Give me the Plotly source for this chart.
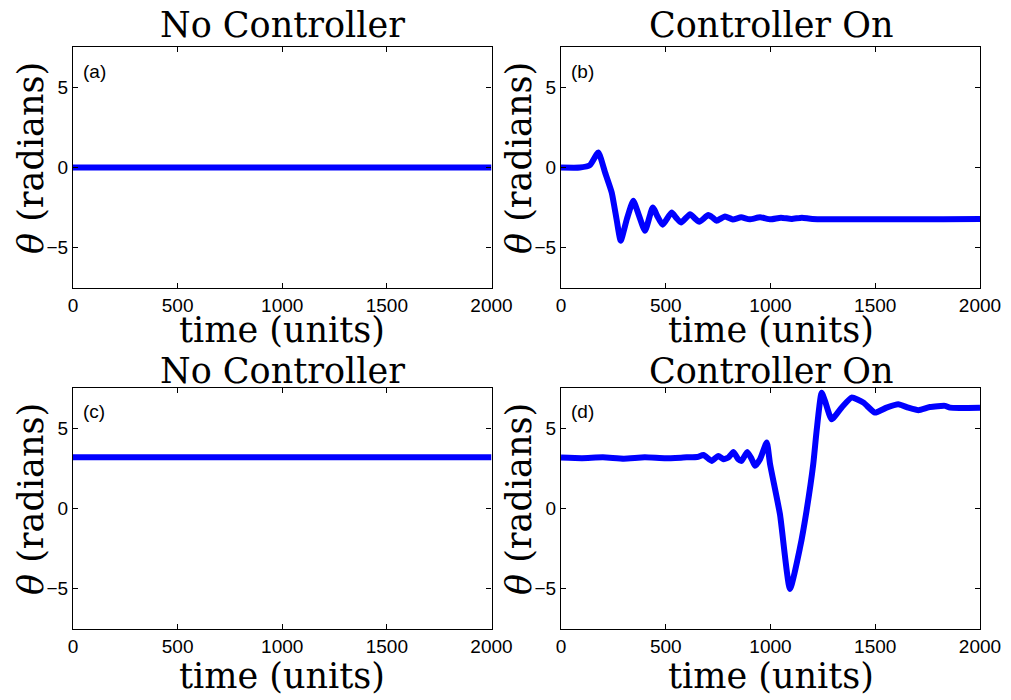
import plotly.graph_objects as go

# ---- data ----
t_a = [0, 2000]
theta_a = [0, 0]

t_b = [0, 90, 138, 178, 210, 242, 266, 285, 315, 345, 372, 401, 438, 462, 485, 528, 550, 573,
       616, 640, 660, 703, 725, 743, 783, 820, 860, 900, 950, 1000, 1050, 1100, 1150, 1200, 2000]
theta_b = [0, 0, 0.15, 0.94, -0.3, -1.56, -3.3, -4.58, -3.2, -2.08, -3.0, -3.96, -2.5, -3.1, -3.58,
           -2.81, -3.15, -3.44, -2.92, -3.2, -3.4, -2.98, -3.15, -3.33, -3.06, -3.25, -3.12, -3.24,
           -3.12, -3.24, -3.14, -3.22, -3.14, -3.22, -3.22]

t_c = [0, 2000]
theta_c = [3.2, 3.2]

t_d = [0, 100, 200, 300, 400, 500, 600, 650, 680, 719, 751, 775, 800, 823, 845, 862, 889, 910,
       926, 950, 982, 998, 1045, 1093, 1141, 1172, 1204, 1220, 1244, 1260, 1292, 1339, 1387, 1443,
       1499, 1554, 1610, 1658, 1706, 1761, 1833, 1857, 2000]
theta_d = [3.19, 3.15, 3.2, 3.12, 3.2, 3.14, 3.2, 3.22, 3.35, 2.98, 3.29, 3.08, 3.2, 3.54, 3.1,
           2.98, 3.54, 3.1, 2.67, 3.08, 4.13, 2.77, -0.35, -5.04, -2.44, -0.15, 2.77, 4.85, 7.25,
           6.73, 5.58, 6.31, 6.94, 6.63, 6.0, 6.31, 6.52, 6.31, 6.15, 6.35, 6.42, 6.31, 6.31]

panel_titles = ["No Controller", "Controller On", "No Controller", "Controller On"]
panel_labels = ["(a)", "(b)", "(c)", "(d)"]
x_ticks = [0, 500, 1000, 1500, 2000]
y_ticks = [-5, 0, 5]
x_title = "time (units)"
y_title = "<i>θ</i> (radians)"

# ---- layout geometry ----
W, H = 1011, 700
cols = [(73, 491.5), (561, 980)]
rows = [(47, 288), (388, 629)]
title_off = [22, 17]
xtitle_off = [42, 47]

fig = go.Figure()
series = [(t_a, theta_a), (t_b, theta_b), (t_c, theta_c), (t_d, theta_d)]

serif = "DejaVu Serif"
sans = "Liberation Sans"
tsize = 35

annotations = []
for i, (tx, ty) in enumerate(series):
    r, c = divmod(i, 2)
    x0, x1 = cols[c]
    y0, y1 = rows[r]
    xa = "x" if i == 0 else f"x{i+1}"
    ya = "y" if i == 0 else f"y{i+1}"
    fig.add_trace(go.Scatter(x=tx, y=ty, mode="lines", xaxis=xa, yaxis=ya,
                             line=dict(color="#0000ff", width=6, shape="spline", smoothing=0.5),
                             showlegend=False, hoverinfo="skip"))
    axcommon = dict(showline=True, mirror="ticks", linecolor="black", linewidth=1.3,
                    ticks="inside", ticklen=5, tickwidth=1, tickcolor="black",
                    showgrid=False, zeroline=False, automargin=False,
                    tickfont=dict(family=sans, size=19, color="black"))
    xkey = "xaxis" if i == 0 else f"xaxis{i+1}"
    ykey = "yaxis" if i == 0 else f"yaxis{i+1}"
    fig.layout[xkey] = dict(axcommon, domain=[x0 / W, x1 / W], range=[0, 2000],
                            tickvals=x_ticks, anchor=ya, ticklabelstandoff=0)
    fig.layout[ykey] = dict(axcommon, domain=[1 - y1 / H, 1 - y0 / H], range=[-7.54, 7.54],
                            tickvals=y_ticks, anchor=xa, ticklabelstandoff=0)
    cx = (x0 + x1) / 2
    # panel title
    annotations.append(dict(text=panel_titles[i], x=cx / W, y=1 - (y0 - title_off[r]) / H,
                            xref="paper", yref="paper", showarrow=False,
                            xanchor="center", yanchor="middle",
                            font=dict(family=serif, size=tsize, color="black")))
    # x title
    annotations.append(dict(text=x_title, x=cx / W, y=1 - (y1 + xtitle_off[r]) / H,
                            xref="paper", yref="paper", showarrow=False,
                            xanchor="center", yanchor="middle",
                            font=dict(family=serif, size=tsize, color="black")))
    # y title
    annotations.append(dict(text=y_title, x=(x0 - 42) / W, y=1 - (y0 + 111) / H,
                            xref="paper", yref="paper", showarrow=False, textangle=-90,
                            xanchor="center", yanchor="middle",
                            font=dict(family=serif, size=tsize, color="black")))
    # panel label
    annotations.append(dict(text=panel_labels[i], x=(x0 + 8) / W, y=1 - (y0 + 24) / H,
                            xref="paper", yref="paper", showarrow=False,
                            xanchor="left", yanchor="middle",
                            font=dict(family=sans, size=19, color="black")))

fig.update_layout(width=W, height=H, margin=dict(l=0, r=0, t=0, b=0, autoexpand=False),
                  paper_bgcolor="white", plot_bgcolor="white",
                  annotations=annotations)

fig.write_html("out.html")
